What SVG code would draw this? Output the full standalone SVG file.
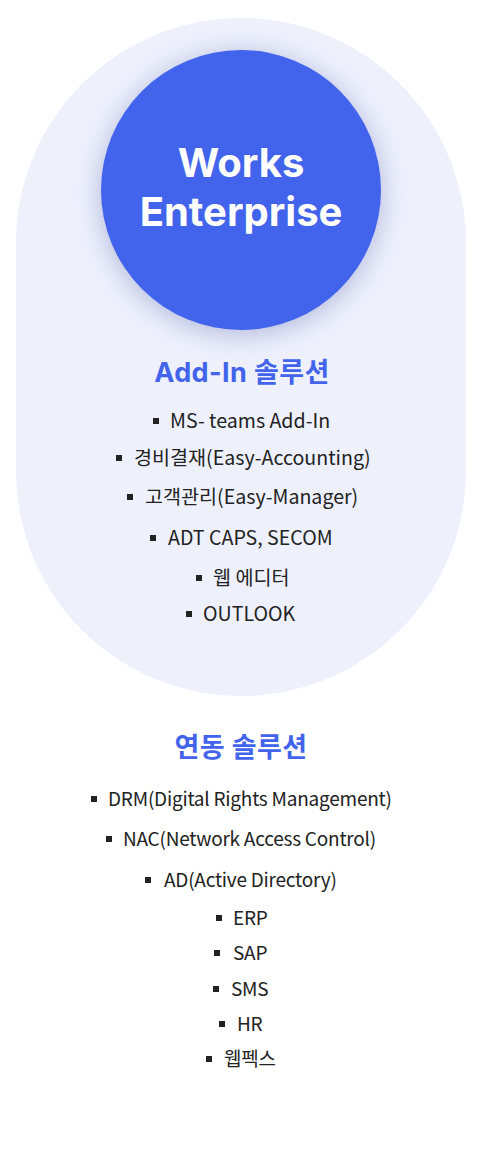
<svg xmlns="http://www.w3.org/2000/svg" width="482" height="1150" viewBox="0 0 482 1150">
<defs>
<filter id="glow" x="-30%" y="-30%" width="160%" height="160%">
<feGaussianBlur stdDeviation="14"/>
</filter>
</defs>
<style>
.title{font-family:Inter,"Noto Sans CJK KR",sans-serif;font-weight:700;fill:#ffffff;font-size:40px;text-anchor:middle}
.head{font-family:Inter,"Noto Sans CJK KR",sans-serif;font-weight:700;fill:#4263EB;font-size:27px;letter-spacing:0.4px;text-anchor:middle}
.item{font-family:"Noto Sans CJK KR",sans-serif;font-weight:400;fill:#222222;font-size:19.6px}
.item2{font-family:"Noto Sans CJK KR",sans-serif;font-weight:400;fill:#222222;font-size:19px;letter-spacing:-0.23px}
.bul{fill:#222222}
</style>
<rect width="482" height="1150" fill="#ffffff"/>
<g id="addin-panel">
<rect x="16" y="18" width="450" height="678" rx="225" ry="225" fill="#EEF1FC"/>
</g>
<g id="works-enterprise">
<circle cx="241" cy="194" r="140" fill="#3a4aa0" opacity="0.35" filter="url(#glow)"/>
<circle cx="241" cy="190" r="140" fill="#4263EB"/>
<text class="title" x="241" y="177">Works</text>
<text class="title" x="241" y="226">Enterprise</text>
</g>
<g id="addin-list">
<text class="head" x="242" y="382">Add-In 솔루션</text>
<rect class="bul" x="153" y="418" width="6" height="6"/><text class="item" x="170" y="428">MS- teams Add-In</text>
<rect class="bul" x="116" y="455" width="6" height="6"/><text class="item" x="134" y="465">경비결재(Easy-Accounting)</text>
<rect class="bul" x="127" y="494" width="6" height="6"/><text class="item" x="145" y="504">고객관리(Easy-Manager)</text>
<rect class="bul" x="150" y="535" width="6" height="6"/><text class="item" x="168" y="545">ADT CAPS, SECOM</text>
<rect class="bul" x="196" y="575" width="6" height="6"/><text class="item" x="213" y="585">웹 에디터</text>
<rect class="bul" x="186" y="611" width="6" height="6"/><text class="item" x="203" y="621">OUTLOOK</text>
</g>
<g id="linked-list">
<text class="head" x="241" y="757">연동 솔루션</text>
<rect class="bul" x="91" y="796" width="6" height="6"/><text class="item2" x="108" y="806">DRM(Digital Rights Management)</text>
<rect class="bul" x="106" y="836" width="6" height="6"/><text class="item2" x="123" y="846">NAC(Network Access Control)</text>
<rect class="bul" x="145" y="877" width="6" height="6"/><text class="item2" x="164" y="887">AD(Active Directory)</text>
<rect class="bul" x="216" y="915" width="6" height="6"/><text class="item2" x="233" y="925">ERP</text>
<rect class="bul" x="214" y="950" width="6" height="6"/><text class="item2" x="233" y="960">SAP</text>
<rect class="bul" x="213" y="986" width="6" height="6"/><text class="item2" x="231" y="996">SMS</text>
<rect class="bul" x="219" y="1021" width="6" height="6"/><text class="item2" x="237" y="1031">HR</text>
<rect class="bul" x="206" y="1056" width="6" height="6"/><text class="item2" x="224" y="1066">웹펙스</text>
</g>
</svg>
